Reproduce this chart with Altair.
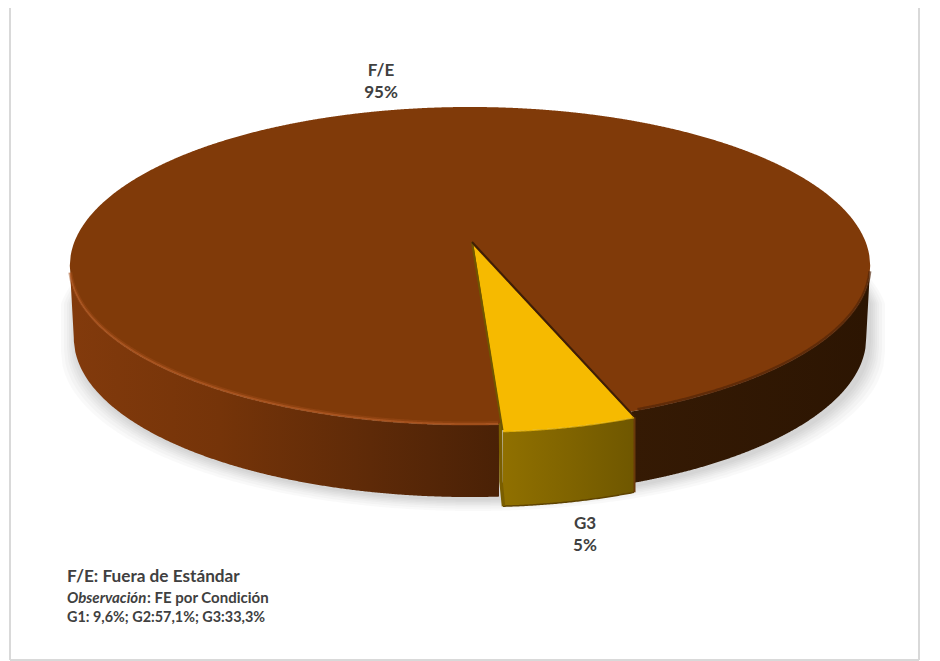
import numpy as np
import pandas as pd
import altair as alt

# chart content
slice_names = ["F/E", "G3"]
slice_shares = [95, 5]
slice_labels = ["95%", "5%"]
note_title = "F/E: Fuera de Estándar"
note_obs = "Observación"
note_obs_rest = ": FE por Condición"
note_groups = "G1: 9,6%; G2:57,1%; G3:33,3%"

# drawing geometry of the tilted disc (reference pixels)
W, H = 924, 653
CX, CY, A, B, K = 470.0, 243.0, 396.0, 155.7, 0.1447
ROT = 3.2
DEPTH = 72.0
xs = alt.Scale(domain=[8, 8 + W], range=[0, W])
ys = alt.Scale(domain=[8 + H, 8])


def proj(phi):
    r = np.radians(phi)
    u, v = np.sin(r), np.cos(r)
    d = 1 - K * v
    return CX + A * u / d, CY + B * v / d


def rim():
    phi = np.linspace(-180, 180, 1441)
    x, y = proj(phi)
    lo, hi = int(np.argmin(x)), int(np.argmax(x))
    lower_x, lower_y = x[lo:hi + 1], y[lo:hi + 1]
    up_x = np.concatenate([x[hi:], x[1:lo + 1]])
    up_y = np.concatenate([y[hi:], y[1:lo + 1]])
    order = np.argsort(up_x)
    return lower_x, lower_y, up_x[order], up_y[order]


lx, ly, ux, uy = rim()


def lower(xv, scale=1.0, dy=0.0):
    return np.interp((np.asarray(xv) - CX) / scale + CX, lx, ly) + dy


def upper(xv):
    return np.interp(xv, ux, uy)


def area(x, y, y2, fill, **kw):
    df = pd.DataFrame({"x": x, "y": y, "y2": y2})
    return alt.Chart(df).mark_area(color=fill, clip=False, **kw).encode(
        x=alt.X("x:Q", scale=xs, axis=None),
        y=alt.Y("y:Q", scale=ys, axis=None),
        y2="y2:Q",
    )


def line(x, y, **kw):
    df = pd.DataFrame({"x": x, "y": y, "o": np.arange(len(x))})
    return alt.Chart(df).mark_line(**kw).encode(
        x=alt.X("x:Q", scale=xs, axis=None),
        y=alt.Y("y:Q", scale=ys, axis=None),
        order="o:Q",
    )


def grad(*stops):
    return alt.Gradient(
        gradient="linear", x1=0, x2=1, y1=0, y2=0,
        stops=[alt.GradientStop(offset=o, color=c) for o, c in stops],
    )


layers = []

# soft shadow under the disc and the pulled-out slice
xb = np.linspace(CX - 0.99 * (CX - lx.min()), CX + 0.99 * (lx.max() - CX), 500)
for grow in [16, 13, 10, 8, 6, 4, 2]:
    sx = CX + (xb - CX) * (1 + grow / 400) + 3
    sy = lower(xb, 0.99, DEPTH) + grow * 0.75 + 2
    layers.append(area(sx, upper(np.clip(xb, ux.min(), ux.max())) + 60, sy,
                       "#000000", opacity=0.022))

# front wall of the main slice
phi_a = ROT
phi_b = ROT + 360 * slice_shares[1] / sum(slice_shares)
xa, ya = proj(phi_a)
xe, ye = proj(phi_b)

x_min, x_max = lx.min(), lx.max()
y_at_min, y_at_max = ly[0], ly[-1]
xb_min = CX - 0.99 * (CX - x_min)
xb_max = CX + 0.99 * (x_max - CX)


def wall_bottom(xv):
    # below the rim; at both ends the wall edge slants in to the smaller lower disc
    out = lower(xv, 0.99, DEPTH)
    out = np.where(xv < xb_min, np.interp(xv, [x_min, xb_min], [y_at_min, y_at_min + DEPTH]), out)
    out = np.where(xv > xb_max, np.interp(xv, [xb_max, x_max], [y_at_max + DEPTH, y_at_max]), out)
    return out


left_x = np.concatenate([np.linspace(x_min, xb_min, 12), np.linspace(xb_min + 0.1, 499, 300)])
layers.append(area(left_x, lower(left_x), wall_bottom(left_x), grad(
    (0, "#823A0C"), (0.35, "#753409"), (0.7, "#5E2A08"), (1, "#4A2106"))))

right_x = np.concatenate([np.linspace(xe - 4, xb_max, 300), np.linspace(xb_max + 0.1, x_max, 12)])
layers.append(area(right_x, lower(right_x), wall_bottom(right_x), grad(
    (0, "#351A04"), (1, "#2C1502"))))

# top face
top_x = np.linspace(x_min, x_max, 900)
layers.append(area(top_x, upper(top_x), lower(top_x), "#803A09"))

# bevel on the rim
rim_l = np.linspace(x_min + 0.5, 498, 300)
layers.append(line(rim_l, lower(rim_l) - 1.5, stroke="#A04E1A", strokeWidth=4, opacity=0.45))
layers.append(line(rim_l, lower(rim_l) - 1, stroke="#B05A24", strokeWidth=1.6, opacity=0.75))
rim_r = np.linspace(xe + 2, x_max - 0.3, 260)
layers.append(line(rim_r, lower(rim_r) - 1, stroke="#4E2407", strokeWidth=3, opacity=0.65))

# pulled-out slice: arc of the slice's share, fitted between its two front corners
CORNER_L, CORNER_R = 503.0, 634.0
OFF_Y = 6.5
apex_x, apex_y = CX + 3.5, CY + 2.5
phis = np.linspace(phi_a, phi_b, 80)
ax, ay = proj(phis)
ax = CORNER_L + (ax - ax[0]) * (CORNER_R - CORNER_L) / (ax[-1] - ax[0])
ay = ay + OFF_Y

wall_bot = ay + 75
layers.append(area(ax, ay, wall_bot, grad(
    (0, "#907000"), (0.5, "#806400"), (1, "#6F5700"))))
layers.append(line(ax, wall_bot, stroke="#5E4300", strokeWidth=1.5))
layers.append(line([ax[-1] + 0.5, ax[-1] + 0.5], [ay[-1], wall_bot[-1]],
                   stroke="#6B3A0A", strokeWidth=2))
# inner face seen in the gap between main wall and slice wall
layers.append(line([ax[0] - 2.5, ax[0] - 2, ax[0] + 0.5], [ay[0] - 8, ay[0] + 50, wall_bot[0]],
                   stroke="#7A5E00", strokeWidth=3.5))

wx = np.linspace(apex_x, ax[-1], 200)
w_top = apex_y + (wx - apex_x) * (ay[-1] - apex_y) / (ax[-1] - apex_x)
w_low = np.where(
    wx < ax[0],
    apex_y + (wx - apex_x) * (ay[0] - apex_y) / (ax[0] - apex_x),
    np.interp(wx, ax, ay),
)
layers.append(area(wx, w_top, w_low, "#F6BA00"))
layers.append(line(ax, ay + 0.5, stroke="#FFC60A", strokeWidth=1.2, opacity=0.7))
layers.append(line([CX + 2, ax[0] - 0.5], [CY - 1, ay[0] - 1], stroke="#6F5600", strokeWidth=2))
layers.append(line([CX + 2, ax[-1]], [CY - 1, ay[-1] - 1], stroke="#3E1F06", strokeWidth=2))

# slice labels
label_df = pd.DataFrame({
    "t": [slice_names[0], slice_labels[0], slice_names[1], slice_labels[1]],
    "x": [381, 381, 585, 585],
    "y": [71, 93, 524, 546],
})
layers.append(alt.Chart(label_df).mark_text(
    font="Lato", fontWeight="bold", fontSize=17, color="#404040", baseline="middle"
).encode(x=alt.X("x:Q", scale=xs, axis=None), y=alt.Y("y:Q", scale=ys, axis=None), text="t:N"))

# note lines
note_df = pd.DataFrame({
    "t": [note_title, note_obs, note_obs_rest, note_groups],
    "x": [67, 67, 147, 67],
    "y": [577, 598, 598, 618],
    "s": [17.2, 15, 15, 14.4],
    "st": ["normal", "italic", "normal", "normal"],
})
for _, r in note_df.iterrows():
    layers.append(alt.Chart(pd.DataFrame([r])).mark_text(
        font="Lato", fontWeight="bold", fontSize=float(r["s"]), fontStyle=r["st"],
        color="#404040", baseline="middle", align="left",
    ).encode(x=alt.X("x:Q", scale=xs, axis=None), y=alt.Y("y:Q", scale=ys, axis=None), text="t:N"))

# outer frame
frame = "#D9D9D9"
layers.append(line([10, 10], [8, 660], stroke=frame, strokeWidth=2))
layers.append(line([919, 919], [8, 660], stroke=frame, strokeWidth=2))
layers.append(line([10, 919], [660, 660], stroke=frame, strokeWidth=2))

chart = alt.layer(*layers).properties(
    width=W, height=H, padding=0, autosize=alt.AutoSizeParams(type="none"),
    background="#FFFFFF",
).configure_view(stroke=None)

chart.save("out.html", embed_options={"renderer": "svg", "actions": False})
